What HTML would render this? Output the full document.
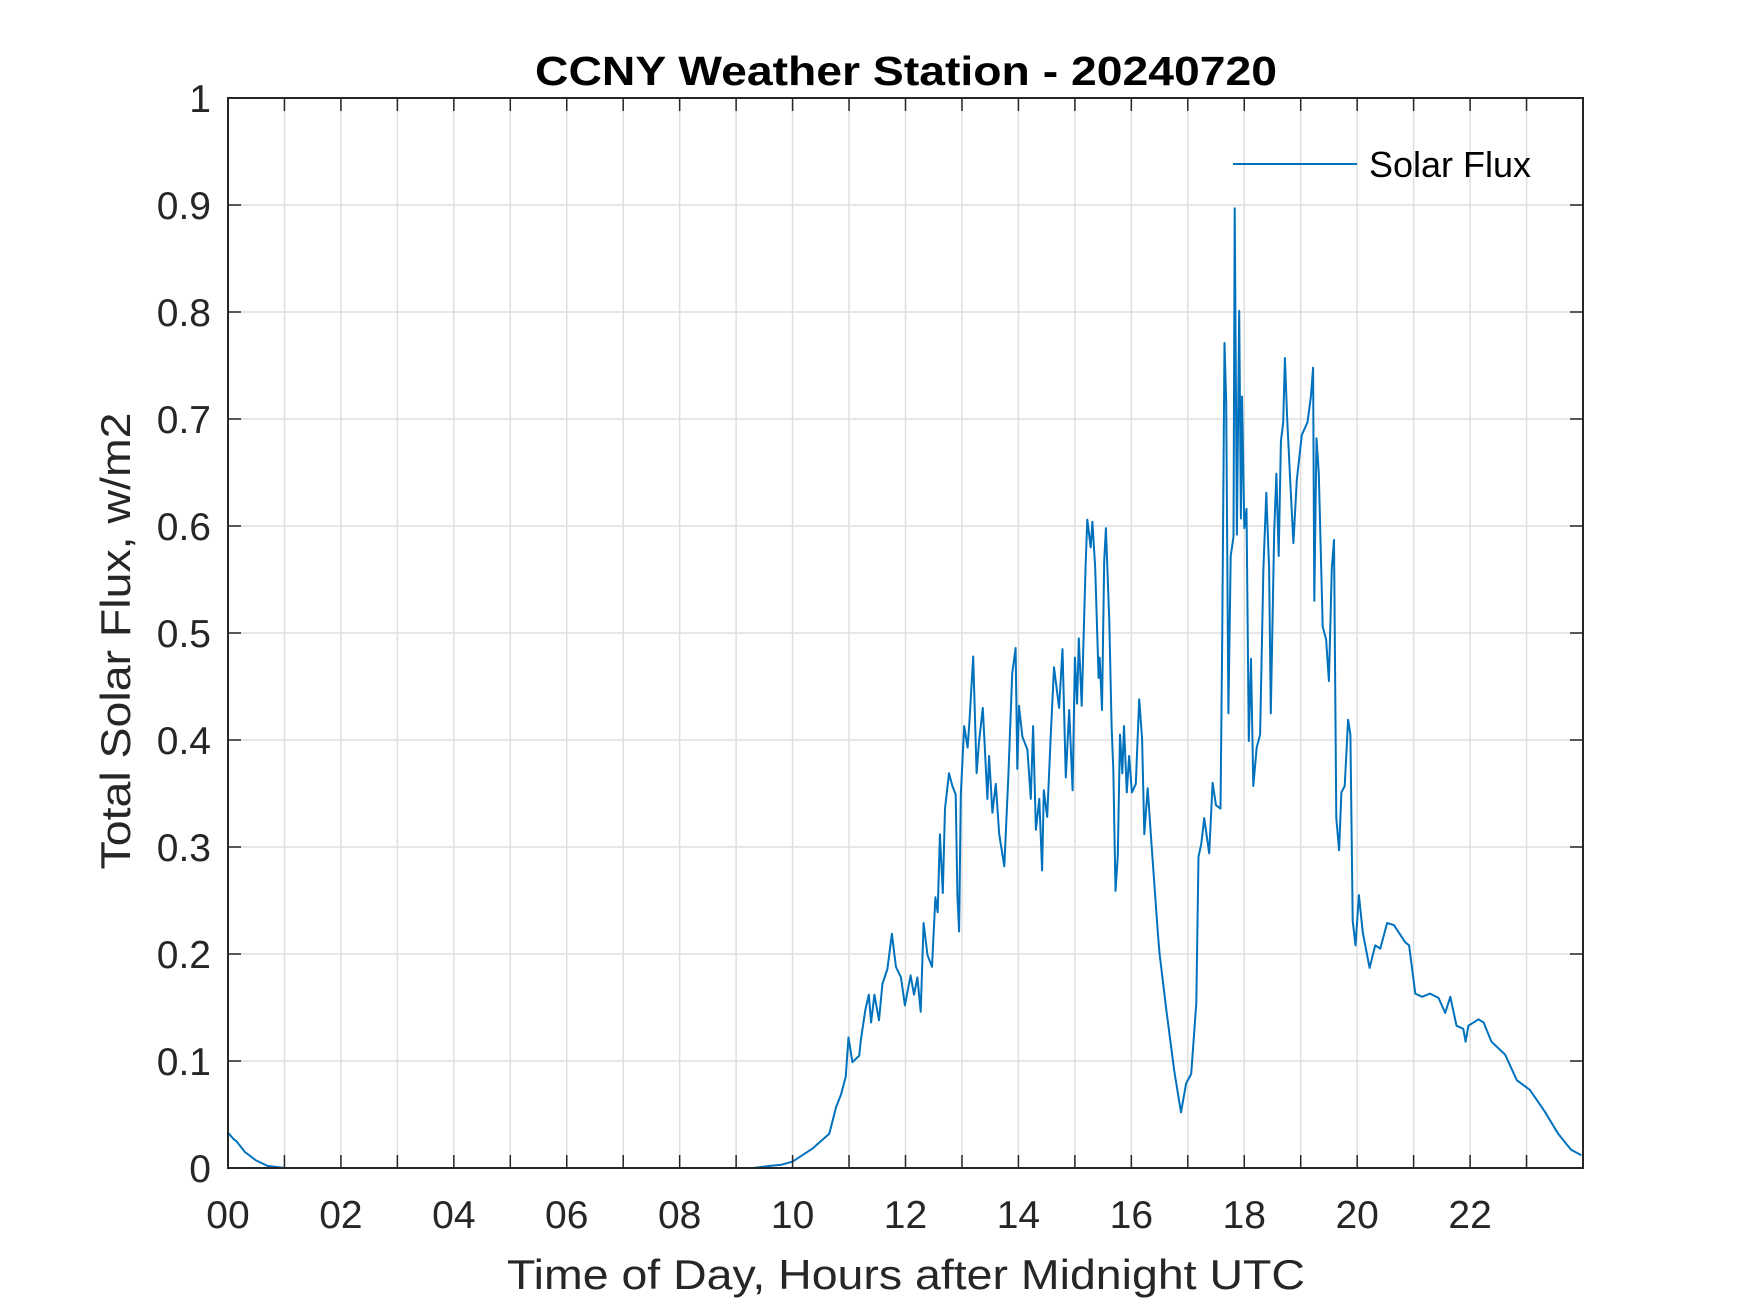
<!DOCTYPE html>
<html><head><meta charset="utf-8"><style>html,body{margin:0;padding:0;background:#fff}svg{display:block}text{font-family:"Liberation Sans",Arial,sans-serif;fill:#262626}</style></head>
<body>
<svg id="chart" width="1750" height="1313" viewBox="0 0 1750 1313" xmlns="http://www.w3.org/2000/svg">
<rect x="0" y="0" width="1750" height="1313" fill="#fff"/>
<g id="grid"></g>
<g id="series"></g>
<g id="axes"></g>
<text x="906" y="85" text-anchor="middle" font-size="41" font-weight="bold" fill="#000" textLength="742" lengthAdjust="spacingAndGlyphs" style="fill:#000">CCNY Weather Station - 20240720</text>
<text x="906" y="1289" text-anchor="middle" font-size="42" textLength="798" lengthAdjust="spacingAndGlyphs">Time of Day, Hours after Midnight UTC</text>
<text transform="translate(130,641) rotate(-90)" text-anchor="middle" font-size="42" textLength="457" lengthAdjust="spacingAndGlyphs">Total Solar Flux, w/m2</text>
<g>
<line x1="1233" y1="164" x2="1357" y2="164" stroke="#0072BD" stroke-width="2"/>
<text x="1369" y="177" font-size="36" style="fill:#000">Solar Flux</text>
</g>
</svg>
<script>
const hours = [0,0.1,0.15,0.3,0.5,0.7,1.0,9.3,9.6,9.8,10.0,10.35,10.65,10.77,10.86,10.94,10.99,11.06,11.18,11.21,11.29,11.35,11.39,11.45,11.53,11.59,11.68,11.76,11.83,11.92,11.99,12.09,12.15,12.21,12.27,12.32,12.39,12.47,12.53,12.57,12.61,12.66,12.7,12.77,12.83,12.89,12.92,12.95,12.98,13.04,13.1,13.13,13.2,13.26,13.3,13.37,13.45,13.48,13.54,13.6,13.66,13.75,13.82,13.89,13.95,13.98,14.01,14.07,14.16,14.22,14.26,14.31,14.37,14.42,14.45,14.51,14.57,14.63,14.72,14.78,14.84,14.9,14.96,15.0,15.04,15.07,15.12,15.19,15.22,15.28,15.31,15.36,15.42,15.44,15.48,15.52,15.55,15.61,15.65,15.68,15.72,15.76,15.8,15.84,15.87,15.92,15.96,16.01,16.08,16.14,16.19,16.23,16.29,16.35,16.47,16.5,16.62,16.76,16.88,16.97,17.06,17.15,17.19,17.24,17.29,17.38,17.44,17.5,17.58,17.61,17.65,17.68,17.72,17.76,17.81,17.83,17.87,17.91,17.94,17.96,18.0,18.04,18.08,18.12,18.16,18.22,18.28,18.34,18.39,18.44,18.47,18.53,18.57,18.61,18.65,18.69,18.72,18.76,18.82,18.87,18.93,19.02,19.12,19.18,19.22,19.24,19.28,19.32,19.39,19.45,19.5,19.55,19.59,19.63,19.68,19.72,19.78,19.84,19.88,19.92,19.97,20.03,20.1,20.22,20.32,20.41,20.53,20.65,20.85,20.92,21.03,21.15,21.29,21.44,21.56,21.65,21.76,21.88,21.92,21.97,22.15,22.24,22.38,22.62,22.83,23.06,23.32,23.56,23.79,23.97];
const flux = [0.033,0.027,0.025,0.015,0.007,0.002,0,0,0.002,0.003,0.006,0.018,0.032,0.057,0.069,0.085,0.122,0.099,0.105,0.12,0.148,0.162,0.136,0.162,0.138,0.172,0.186,0.219,0.188,0.178,0.152,0.18,0.162,0.178,0.146,0.229,0.199,0.188,0.253,0.239,0.312,0.257,0.336,0.369,0.357,0.349,0.255,0.221,0.349,0.413,0.393,0.415,0.478,0.369,0.397,0.43,0.345,0.385,0.332,0.359,0.312,0.282,0.365,0.462,0.486,0.373,0.432,0.403,0.391,0.345,0.413,0.316,0.345,0.278,0.353,0.328,0.401,0.468,0.43,0.485,0.365,0.428,0.353,0.477,0.434,0.495,0.432,0.563,0.606,0.58,0.604,0.561,0.458,0.477,0.428,0.567,0.598,0.511,0.413,0.373,0.259,0.292,0.405,0.369,0.413,0.351,0.385,0.351,0.359,0.438,0.401,0.312,0.355,0.308,0.219,0.2,0.148,0.091,0.052,0.079,0.088,0.154,0.291,0.303,0.327,0.294,0.36,0.339,0.336,0.494,0.771,0.715,0.425,0.572,0.59,0.897,0.592,0.801,0.607,0.721,0.598,0.616,0.399,0.476,0.357,0.393,0.405,0.56,0.631,0.56,0.425,0.595,0.649,0.572,0.679,0.697,0.757,0.7,0.637,0.584,0.643,0.685,0.697,0.721,0.748,0.53,0.682,0.649,0.506,0.494,0.455,0.56,0.587,0.327,0.297,0.351,0.357,0.419,0.405,0.231,0.208,0.255,0.22,0.187,0.208,0.205,0.229,0.227,0.211,0.208,0.163,0.16,0.163,0.159,0.145,0.16,0.133,0.13,0.118,0.133,0.139,0.136,0.118,0.106,0.082,0.073,0.053,0.032,0.017,0.012];
const xTickLabels = ["00","02","04","06","08","10","12","14","16","18","20","22"];
const yTickLabels = ["0","0.1","0.2","0.3","0.4","0.5","0.6","0.7","0.8","0.9","1"];

const NS = "http://www.w3.org/2000/svg";
const L = 228, R = 1583, T = 98, B = 1168;
const xMax = 24, yMax = 1;
function sx(h){ return L + (h / xMax) * (R - L); }
function sy(v){ return B - (v / yMax) * (B - T); }
function mk(tag, attrs, parent){ const e = document.createElementNS(NS, tag); for (const k in attrs) e.setAttribute(k, attrs[k]); parent.appendChild(e); return e; }
const grid = document.getElementById('grid');
const axes = document.getElementById('axes');
const series = document.getElementById('series');

for (let h = 1; h < xMax; h++) {
  const g = mk('line', {x1: sx(h), x2: sx(h), y1: T, y2: B, stroke: '#dfdfdf', 'stroke-width': 1.5}, grid);
  
  
  const t1 = mk('line', {x1: sx(h), x2: sx(h), y1: B, y2: B - 13, stroke: '#262626', 'stroke-width': 1.5}, axes);
  
  
  const t2 = mk('line', {x1: sx(h), x2: sx(h), y1: T, y2: T + 13, stroke: '#262626', 'stroke-width': 1.5}, axes);
  
  
}
xTickLabels.forEach((lab, i) => {
  const t = mk('text', {x: sx(i * 2), y: 1228, 'text-anchor': 'middle', 'font-size': 39}, axes);
  t.textContent = lab;
  
  
});
yTickLabels.forEach((lab, i) => {
  const v = i / 10;
  if (i > 0 && i < 10) {
    const g = mk('line', {x1: L, x2: R, y1: sy(v), y2: sy(v), stroke: '#dfdfdf', 'stroke-width': 1.5}, grid);
    
    
    const t1 = mk('line', {x1: L, x2: L + 13, y1: sy(v), y2: sy(v), stroke: '#262626', 'stroke-width': 1.5}, axes);
    
    
    const t2 = mk('line', {x1: R, x2: R - 13, y1: sy(v), y2: sy(v), stroke: '#262626', 'stroke-width': 1.5}, axes);
    
    
  }
  const t = mk('text', {x: 211, y: sy(v) + 14, 'text-anchor': 'end', 'font-size': 39}, axes);
  t.textContent = lab;
  
  
});
const box = mk('rect', {x: L, y: T, width: R - L, height: B - T, fill: 'none', stroke: '#262626', 'stroke-width': 2}, axes);



const pts = hours.map((h, i) => sx(h).toFixed(1) + ',' + sy(flux[i]).toFixed(1)).join(' ');
const line = mk('polyline', {points: pts, fill: 'none', stroke: '#0072BD', 'stroke-width': 2, 'stroke-linejoin': 'round'}, series);


</script>
</body></html>
